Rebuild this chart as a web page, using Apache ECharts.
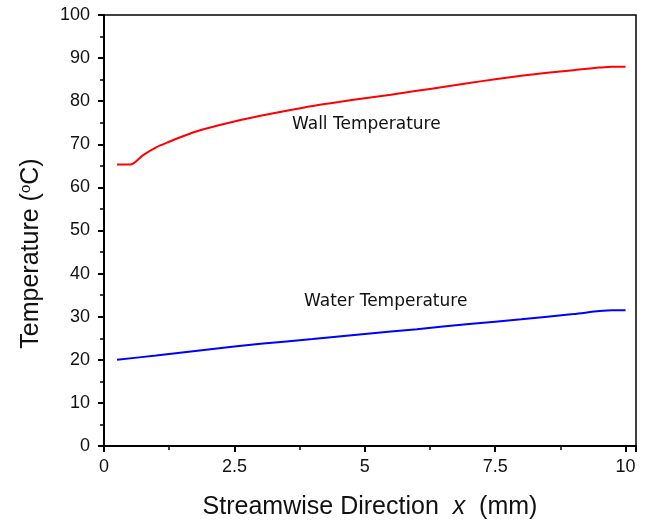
<!DOCTYPE html>
<html>
<head>
<meta charset="utf-8">
<script src="https://cdn.jsdelivr.net/npm/echarts@6/dist/echarts.min.js"></script>
<style>
  html, body { margin: 0; padding: 0; background: #fff; }
  #chart { width: 650px; height: 525px; }
</style>
</head>
<body>
<div id="chart"></div>
<script>
// streamwise position (mm) and temperature (°C)
var wallX = [0.25, 0.5, 0.75, 1.0, 1.25, 1.5, 1.75, 2.0, 2.5, 3.0, 3.5, 4.0, 4.5, 5.0, 5.5, 6.0, 6.5, 7.0, 7.5, 8.0, 8.5, 9.0, 9.5, 9.75, 10.0]
var wallT = [65.3, 65.3, 67.5, 69.3, 70.6, 71.8, 72.9, 73.8, 75.3, 76.6, 77.8, 78.9, 79.8, 80.7, 81.5, 82.4, 83.3, 84.2, 85.1, 85.9, 86.6, 87.2, 87.8, 88.0, 88.0]
var waterX = [0.25, 1, 2, 3, 4, 5, 6, 7, 8, 9, 9.5, 9.75, 10]
var waterT = [20.0, 21.0, 22.4, 23.7, 24.8, 26.0, 27.1, 28.3, 29.4, 30.6, 31.3, 31.5, 31.5]
var xTicks = [0, 2.5, 5, 7.5, 10]

function pairs(xs, ys) {
  return xs.map(function (x, i) { return [x, ys[i]] })
}

var chart = echarts.init(document.getElementById('chart'))
chart.setOption({
  animation: false,
  grid: {
    left: 104, top: 15, right: 14, bottom: 79,
    show: true, borderColor: '#000', borderWidth: 1.5
  },
  xAxis: {
    type: 'value',
    min: 0,
    max: 10.2,
    interval: 2.5,
    splitLine: { show: false },
    axisLine: { onZero: false, lineStyle: { color: '#000', width: 2 } },
    axisTick: { inside: false, length: 6, lineStyle: { width: 2 } },
    minorTick: { show: true, splitNumber: 2, length: 4, lineStyle: { color: '#000', width: 1.5 } },
    axisLabel: {
      color: '#111', fontSize: 18, fontFamily: 'Liberation Sans, Arial', margin: 12,
      showMaxLabel: false,
      formatter: function (v) { return xTicks.indexOf(v) >= 0 ? String(v) : '' }
    },
    name: 'Streamwise Direction  {i|x}  (mm)',
    nameLocation: 'middle',
    nameGap: 49,
    nameTextStyle: {
      color: '#111', fontSize: 25, fontFamily: 'Liberation Sans, Arial',
      rich: { i: { fontSize: 25, fontStyle: 'italic', fontFamily: 'Liberation Sans, Arial' } }
    }
  },
  yAxis: {
    type: 'value',
    min: 0,
    max: 100,
    interval: 10,
    splitLine: { show: false },
    axisLine: { lineStyle: { color: '#000', width: 2 } },
    axisTick: { inside: false, length: 6, lineStyle: { width: 2 } },
    minorTick: { show: true, splitNumber: 2, length: 4, lineStyle: { color: '#000', width: 1.5 } },
    axisLabel: { color: '#111', fontSize: 18, fontFamily: 'Liberation Sans, Arial', margin: 14 },
    name: 'Temperature ({sup|o}C)',
    nameLocation: 'middle',
    nameRotate: 90,
    nameGap: 59,
    nameTextStyle: {
      color: '#111', fontSize: 25, fontFamily: 'Liberation Sans, Arial',
      padding: [0, 46, 0, 0],
      rich: { sup: { fontSize: 15, fontFamily: 'Liberation Sans, Arial', verticalAlign: 'top', padding: [0, 0, 12, 0] } }
    }
  },
  series: [
    {
      name: 'Wall Temperature',
      type: 'line',
      data: pairs(wallX, wallT),
      showSymbol: false,
      smooth: 0.3,
      lineStyle: { color: '#ff0000', width: 2 }
    },
    {
      name: 'Water Temperature',
      type: 'line',
      data: pairs(waterX, waterT),
      showSymbol: false,
      smooth: 0.3,
      lineStyle: { color: '#0000ff', width: 2 }
    }
  ],
  graphic: [
    {
      type: 'text', left: 292, top: 116,
      style: { text: 'Wall Temperature', fontSize: 17, fontFamily: 'DejaVu Sans', fill: '#111' }
    },
    {
      type: 'text', left: 304, top: 293,
      style: { text: 'Water Temperature', fontSize: 17, fontFamily: 'DejaVu Sans', fill: '#111' }
    }
  ]
})
</script>
</body>
</html>
